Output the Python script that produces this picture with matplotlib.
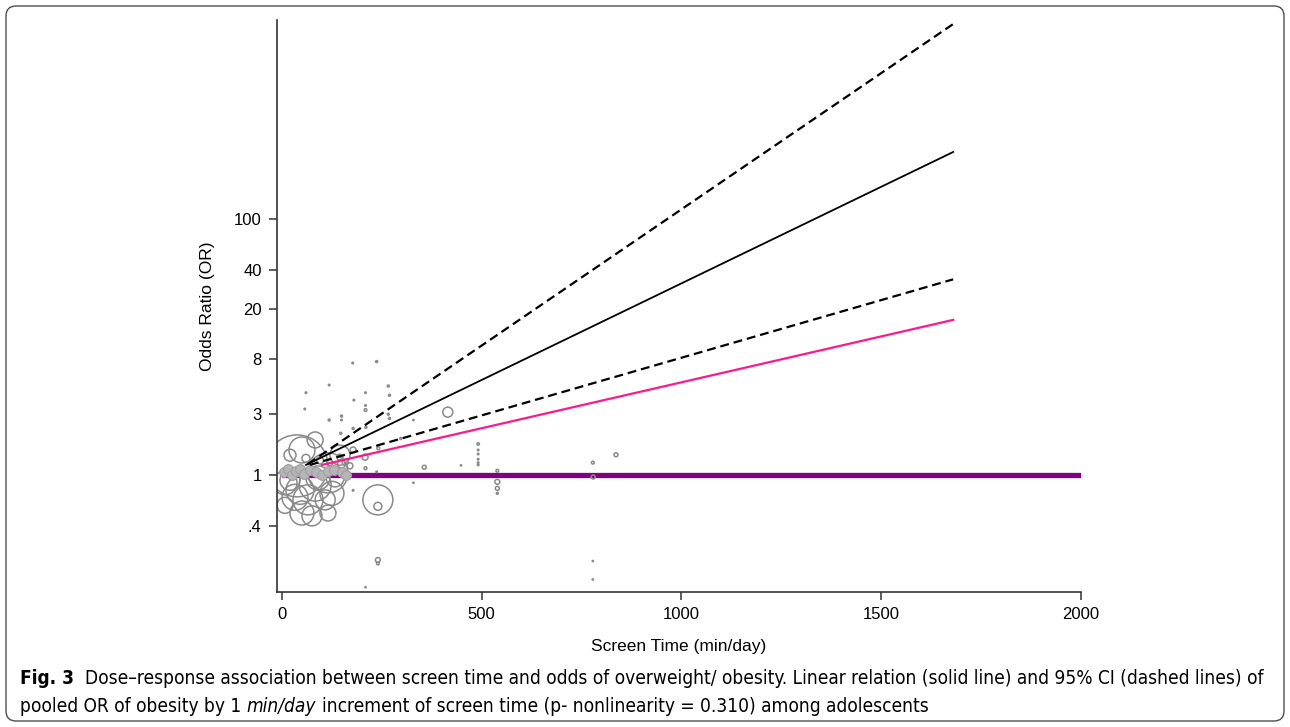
import numpy as np
import matplotlib.pyplot as plt
from matplotlib.patches import FancyBboxPatch
from matplotlib.transforms import IdentityTransform

# =====================================================
# Study points (screen time, OR, weight)
# =====================================================

screen_time = [
    37.5, 50, 115, 32.5, 65, 125, 50, 115, 240, 240,
    415, 7.5, 83, 145, 20, 90, 133, 45, 108, 75,
    7.5, 83, 20, 178, 208, 158, 145, 149, 170, 240,
    356, 539, 539, 779, 836, 60, 95, 120,
    237, 177, 118, 60, 57, 266, 269, 209, 180, 209,
    209, 149, 118, 149, 266, 269, 178, 210, 147, 329,
    297, 491, 491, 491, 491, 491, 491, 539, 539, 778,
    778, 778, 448, 329, 237, 209, 178, 209, 240, 241
]

odds_ratio = [
    1.18, 1.57, 1.04, 0.67, 0.64, 0.72, 0.505, 0.505, 0.64, 0.57,
    3.1, 0.87, 0.835, 1.43, 0.91, 0.95, 0.95, 0.76, 0.64, 0.48,
    0.58, 1.88, 1.43, 1.57, 1.38, 1.26, 1.38, 1.22, 1.18, 0.217,
    1.15, 0.886, 0.787, 0.965, 1.44, 1.35, 1.3, 1.25,
    7.7, 7.5, 5.05, 4.4, 3.28, 4.96, 4.2, 4.4, 3.85, 3.22,
    3.5, 2.89, 2.69, 2.69, 2.99, 2.77, 2.31, 2.36, 2.12, 2.69,
    1.93, 1.75, 1.57, 1.46, 1.33, 1.25, 1.2, 1.08, 0.72, 1.25,
    0.213, 0.153, 1.19, 0.87, 1.06, 1.13, 0.76, 0.133, 0.204, 1.62
]

weight = [
    961, 169, 400, 169, 225, 144, 144, 64, 225, 16,
    25, 144, 256, 100, 100, 144, 81, 196, 100, 100,
    64, 64, 36, 9, 9, 9, 9, 16, 9, 6,
    4, 6, 4, 4, 4, 16, 12, 9,
    1, 0.6, 0.6, 0.6, 0.6, 1, 1, 0.6, 0.6, 2,
    0.6, 1, 1, 0.6, 1, 1, 1, 1, 1, 0.4,
    1, 1.5, 0.6, 0.6, 0.6, 0.6, 0.6, 2, 1, 2,
    0.4, 0.4, 0.4, 0.4, 0.6, 2, 0.6, 0.4, 2, 2
]

# small filled markers packed near OR = 1
filled_time = [5, 15, 25, 35, 45, 55, 70, 85, 100, 115, 130, 150, 160]
filled_or = [1.05, 1.12, 1.0, 1.08, 1.12, 1.02, 1.1, 1.05, 1.0, 1.08, 1.1, 1.05, 1.0]

# =====================================================
# Fitted relations (start and end of each line)
# =====================================================

fit_x = [60, 1680]
fit_or = [1.2, 334]

upper_x = [65, 1680]
upper_or = [1.22, 3337]

lower_x = [70, 1680]
lower_or = [1.2, 33.8]

pink_x = [100, 1680]
pink_or = [1.2, 16.3]

ref_x = [0, 2010]
ref_or = [1, 1]

x_ticks = [0, 500, 1000, 1500, 2000]
y_ticks = [0.4, 1, 3, 8, 20, 40, 100]
y_labels = [".4", "1", "3", "8", "20", "40", "100"]

# =====================================================
# Figure
# =====================================================

plt.rcParams['font.family'] = ['Liberation Sans', 'DejaVu Sans']

fig = plt.figure(figsize=(12.9, 7.27), dpi=100)
ax = fig.add_axes([277 / 1290, 1 - 592 / 727, (1081 - 277) / 1290, (592 - 20) / 727])

ax.plot(ref_x, ref_or, color="#800080", lw=3.8, solid_capstyle="butt", zorder=1)

ax.scatter(
    screen_time,
    odds_ratio,
    s=np.array(weight) * 2.07,
    facecolors="none",
    edgecolors="#8a8a8a",
    linewidths=1.1,
    zorder=2
)

ax.scatter(
    filled_time,
    filled_or,
    s=50,
    facecolors="#b5b5b5",
    edgecolors="#a0a0a0",
    linewidths=0.8,
    zorder=2
)

ax.plot(pink_x, pink_or, color="#ff1a8c", lw=1.6, zorder=3)
ax.plot(fit_x, fit_or, color="black", lw=1.3, zorder=3)
ax.plot(upper_x, upper_or, color="black", lw=1.6, dashes=(4, 2.2), zorder=3)
ax.plot(lower_x, lower_or, color="black", lw=1.6, dashes=(4, 2.2), zorder=3)

ax.set_yscale("log")
ax.set_xlim(-12.5, 2000)
ax.set_ylim(0.122, 3589)

ax.set_xticks(x_ticks)
ax.set_yticks(y_ticks)
ax.set_yticklabels(y_labels)
ax.minorticks_off()

for side in ["top", "right"]:
    ax.spines[side].set_visible(False)
for side in ["left", "bottom"]:
    ax.spines[side].set_color("#333333")
    ax.spines[side].set_linewidth(1.2)

ax.tick_params(direction="out", length=6, width=1.1, color="#333333",
               labelsize=12, pad=5)

ax.set_xlabel("Screen Time (min/day)", fontsize=12.5, labelpad=12)
ax.set_ylabel("Odds Ratio (OR)", fontsize=12.5, labelpad=14)

# =====================================================
# Caption
# =====================================================

cap_kw = dict(family=['DejaVu Sans'], fontstretch="condensed")
renderer = fig.canvas.get_renderer()

line1 = [
    ("Fig. 3", "bold", "normal", 2),
    ("Dose\u2013response association between screen time and odds of overweight/ obesity. "
     "Linear relation (solid line) and 95% CI (dashed lines) of", "normal", "normal", 0),
]
line2 = [
    ("pooled OR of obesity by 1", "normal", "normal", 1),
    ("min/day", "normal", "italic", 1),
    ("increment of screen time (p- nonlinearity = 0.310) among adolescents",
     "normal", "normal", 0),
]


def text_width(s, size):
    t = fig.text(0, 0, s, transform=IdentityTransform(), fontsize=size, **cap_kw)
    w = t.get_window_extent(renderer=renderer).width
    t.remove()
    return w


def put_runs(runs, x, y, size):
    space = text_width("a a", size) - text_width("aa", size)
    for s, wt, st, gap in runs:
        t = fig.text(x, y, s, fontsize=size, fontweight=wt, fontstyle=st,
                     va="baseline", transform=IdentityTransform(), **cap_kw)
        x = t.get_window_extent(renderer=renderer).x1 + gap * space
    return x


# fit the first caption line to the width it has in the figure
trial = put_runs(line1, 0, -100, 13)
for t in list(fig.texts):
    t.remove()
cap_size = 13 * 1238 / trial

put_runs(line1, 20, 727 - 684, cap_size)
put_runs(line2, 20, 727 - 712, cap_size)

border = FancyBboxPatch(
    (6, 6), 1278, 715,
    boxstyle="round,pad=0,rounding_size=10",
    transform=IdentityTransform(),
    fill=False, edgecolor="#4d4d4d", lw=1
)
fig.patches.append(border)

fig.savefig("out.png", dpi=100)
